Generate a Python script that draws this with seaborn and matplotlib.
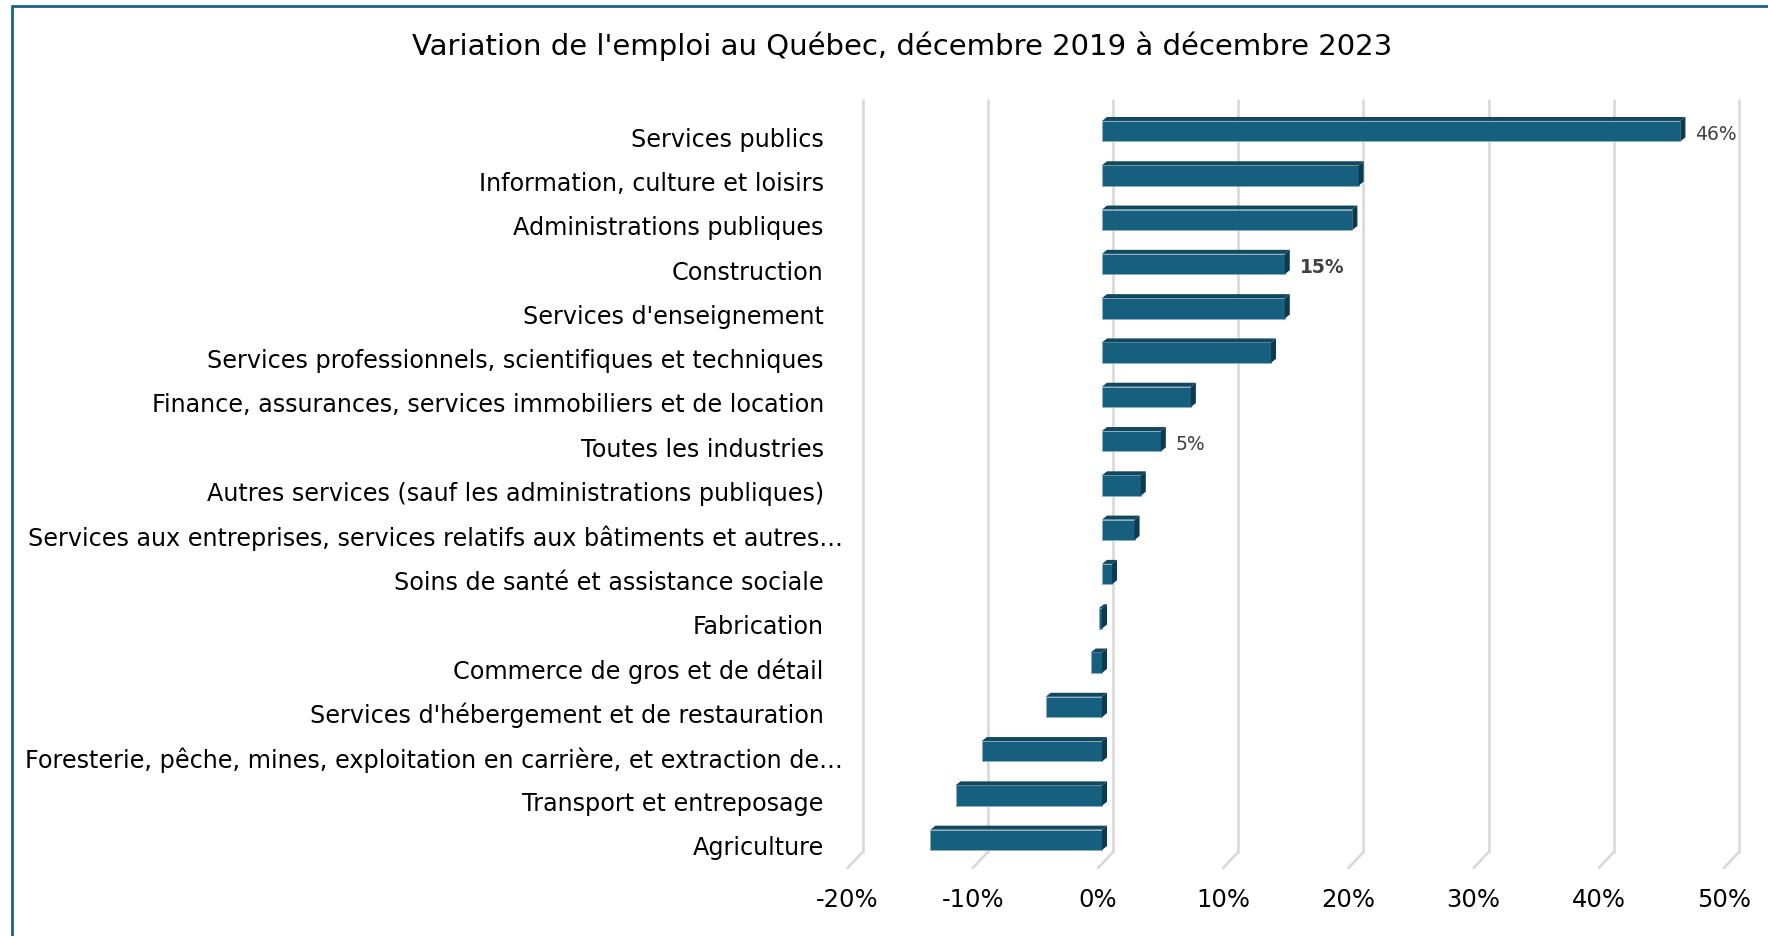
import numpy as np
import pandas as pd
import matplotlib
matplotlib.use('Agg')
import matplotlib.pyplot as plt
import matplotlib.transforms as mtransforms
from matplotlib.patches import Polygon
from matplotlib.lines import Line2D
import seaborn as sns

# data (variation in %, Dec 2019 -> Dec 2023)
industries = [
    'Services publics',
    'Information, culture et loisirs',
    'Administrations publiques',
    'Construction',
    "Services d'enseignement",
    'Services professionnels, scientifiques et techniques',
    'Finance, assurances, services immobiliers et de location',
    'Toutes les industries',
    'Autres services (sauf les administrations publiques)',
    'Services aux entreprises, services relatifs aux bâtiments et autres…',
    'Soins de santé et assistance sociale',
    'Fabrication',
    'Commerce de gros et de détail',
    "Services d'hébergement et de restauration",
    'Foresterie, pêche, mines, exploitation en carrière, et extraction de…',
    'Transport et entreposage',
    'Agriculture',
]
variation = [46.2, 20.5, 20.0, 14.6, 14.6, 13.5, 7.1, 4.7, 3.1, 2.6, 0.8,
             -0.25, -0.9, -4.5, -9.6, -11.7, -13.7]

# only three bars carry a value label
labelled = ['Services publics', 'Construction', 'Toutes les industries']
label_text = ['46%', '15%', '5%']
label_weight = ['normal', 'bold', 'normal']

xticks = [-20, -10, 0, 10, 20, 30, 40, 50]
xtick_labels = ['-20%', '-10%', '0%', '10%', '20%', '30%', '40%', '50%']

df = pd.DataFrame({'industrie': industries, 'variation': variation})

front = '#175f7e'
top_col = '#12485f'
side_col = '#0c3a4e'
grid_col = '#d9d9d9'

sns.set_style('white')
plt.rcParams['font.family'] = ['DejaVu Sans']

W, H = 1768, 936
fig = plt.figure(figsize=(W / 100, H / 100), dpi=100)
ax_l, ax_b, ax_w, ax_h = 851.6 / W, (H - 862) / H, 876.4 / W, 753 / H
ax = fig.add_axes([ax_l, ax_b, ax_w, ax_h])

sns.barplot(data=df, x='variation', y='industrie', orient='h', color=front,
            width=0.46, saturation=1, edgecolor='#8fb0c2', linewidth=0.6,
            ax=ax, zorder=3)
ax.set_xlim(-20, 50)
ax.set_ylim(16.5, -0.5)
ax.set_xlabel('')
ax.set_ylabel('')
for s in ax.spines.values():
    s.set_visible(False)

px_per_pct = W * ax_w / 70.0
def px(n):
    return n / px_per_pct

# back-wall gridlines + floor slant
xt = ax.get_xaxis_transform()
y_bot = 10 / 753
y_top = 1 + 9 / 753
y_floor = -6 / 753
for v in xticks:
    ax.add_line(Line2D([v + px(11), v + px(11)], [y_bot, y_top], transform=xt,
                       color=grid_col, lw=1.9, zorder=1, clip_on=False))
    ax.add_line(Line2D([v + px(11), v - px(4)], [y_bot, y_floor], transform=xt,
                       color=grid_col, lw=1.9, zorder=1, clip_on=False))

# 3D top and side faces of each bar
dx, dy = px(5), 4 / 44.3
for p in ax.patches:
    x0, w = p.get_x(), p.get_width()
    y0, h = p.get_y(), p.get_height()
    xl, xr = min(x0, x0 + w), max(x0, x0 + w)
    ytop = y0
    ybot = y0 + h
    top = Polygon([(xl, ytop), (xr, ytop), (xr + dx, ytop - dy), (xl + dx, ytop - dy)],
                  closed=True, facecolor=top_col, edgecolor='none', zorder=4)
    side = Polygon([(xr, ytop), (xr + dx, ytop - dy), (xr + dx, ybot - dy), (xr, ybot)],
                   closed=True, facecolor=side_col, edgecolor='none', zorder=4)
    ax.add_patch(top)
    ax.add_patch(side)

# value labels
for name, txt, wt in zip(labelled, label_text, label_weight):
    i = industries.index(name)
    ax.text(variation[i] + px(15), i + 0.07, txt, ha='left', va='center',
            fontsize=13.5, fontweight=wt, color='#404040', zorder=5)

# ticks
ax.set_xticks(xticks)
ax.set_xticklabels(xtick_labels, fontsize=17.5, color='black')
ax.tick_params(axis='x', length=0, pad=19)
ax.tick_params(axis='y', length=0, pad=20, labelsize=17.2, labelcolor='black')
for lab in ax.get_xticklabels():
    lab.set_transform(lab.get_transform() +
                      mtransforms.ScaledTranslation(-4 / 100, 0, fig.dpi_scale_trans))
for lab in ax.get_yticklabels():
    shift_x = 19 / 100 if lab.get_text().endswith('…') else 0
    lab.set_transform(lab.get_transform() +
                      mtransforms.ScaledTranslation(shift_x, -6 / 100, fig.dpi_scale_trans))

fig.text(902 / W, 1 - 46 / H, "Variation de l'emploi au Québec, décembre 2019 à décembre 2023",
         ha='center', va='center', fontsize=21, color='black')

# frame (only top and left edges show in the crop)
fig.add_artist(Line2D([12 / W, 12 / W], [0, 1 - 6 / H], transform=fig.transFigure,
                      color='#1b6487', lw=2))
fig.add_artist(Line2D([12 / W, 1], [1 - 6 / H, 1 - 6 / H], transform=fig.transFigure,
                      color='#1b6487', lw=2))

fig.savefig('out.png', dpi=100, facecolor='white')
